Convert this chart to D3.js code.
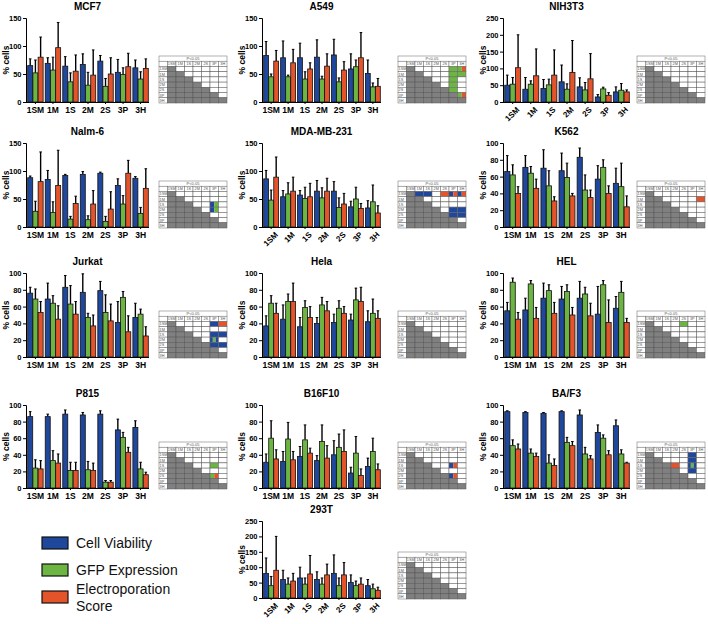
<!DOCTYPE html>
<html><head><meta charset="utf-8">
<script src="https://cdn.jsdelivr.net/npm/d3@7"></script>
<style>body{margin:0;background:#fff}svg{display:block}text{font-family:Arial,"Liberation Sans",sans-serif}</style>
</head><body><svg id="c" width="708" height="624"></svg>
<script>
const categories = ["1SM","1M","1S","2M","2S","3P","3H"];
const panelNames = ["MCF7","A549","NIH3T3","Nalm-6","MDA-MB-231","K562","Jurkat","Hela","HEL","P815","B16F10","BA/F3","293T"];
const yMax = [150,150,250,150,150,100,100,100,100,100,100,100,250];
const rotatedLabels = [false,false,true,false,true,false,false,false,false,false,false,false,true];
const seriesNames = ["Cell Viability","GFP Expression","Electroporation Score"];
const seriesColors = ["#1f479c","#6cb543","#e4542b"];

const viability = [
 [65,69,64,67,73,53,61],[83,79,79,80,84,59,51],[50,38,40,60,45,15,30],
 [88,85,92,94,96,74,87],[86,54,57,64,64,36,34],[66,71,70,67,83,57,52],
 [76,69,83,77,79,41,47],[37,45,36,40,41,44,42],[55,56,70,69,70,51,58],
 [86,86,89,88,89,70,73],[31,32,38,33,40,18,26],[92,91,90,92,88,67,75],
 [80,60,65,60,80,50,40]];
const viabilityErr = [
 [12,10,17,19,10,23,14],[25,30,26,31,28,27,24],[30,35,27,50,27,7,15],
 [3,16,2,5,2,12,3],[15,11,8,19,17,10,13],[19,14,22,21,11,16,18],
 [7,19,14,22,11,25,17],[12,17,11,7,10,7,13],[10,14,18,15,20,33,14],
 [6,3,5,3,4,13,8],[10,12,12,6,17,7,10],[1,1,1,1,6,9,7],
 [50,30,35,25,60,25,20]];
const gfp = [
 [52,57,36,30,28,49,41],[45,45,41,41,36,63,27],[53,53,51,38,36,39,35],
 [28,26,14,13,10,41,24],[48,59,51,52,35,50,45],[62,64,49,59,44,71,48],
 [69,64,63,47,53,71,51],[64,66,59,62,58,68,52],[89,87,79,78,75,86,77],
 [24,33,21,22,7,61,23],[60,59,58,56,49,42,44],[51,42,30,55,41,60,41],
 [40,45,45,45,40,40,30]];
const gfpErr = [
 [23,23,16,23,14,12,13],[5,3,13,5,7,12,7],[20,10,17,16,22,5,20],
 [18,19,5,7,9,15,11],[18,20,20,18,17,21,30],[12,8,18,17,18,9,28],
 [12,9,22,5,21,7,6],[9,9,8,9,9,14,17],[5,4,7,8,8,5,13],
 [10,12,10,10,2,6,8],[21,20,18,20,16,20,16],[7,5,10,6,8,4,5],
 [30,20,20,20,25,15,15]];
const ep = [
 [80,97,55,48,50,63,60],[73,70,59,64,57,79,28],[102,78,80,88,69,20,30],
 [81,74,42,41,32,96,69],[89,64,54,64,41,33,25],[40,46,31,37,35,40,24],
 [53,45,51,37,43,30,25],[52,66,47,55,52,66,46],[45,46,52,50,49,41,41],
 [23,30,21,21,7,43,16],[35,34,42,36,44,15,22],[47,38,27,51,35,40,30],
 [90,55,78,75,75,45,25]];
const epErr = [
 [36,45,29,45,29,24,17],[19,24,11,22,15,45,14],[98,80,75,95,75,8,6],
 [53,63,13,24,31,23,35],[36,25,24,23,19,9,13],[8,11,5,3,9,9,13],
 [13,16,15,13,20,19,11],[12,22,13,11,8,17,9],[8,13,13,9,15,27,5],
 [10,11,10,9,2,6,3],[11,10,6,15,26,8,7],[6,4,8,5,4,5,1],
 [110,25,60,35,40,20,10]];
// significance cells: [row, col, colour codes]
const sigCells = [
 [],
 [[0,5,"g"],[1,5,"g"],[2,5,"g"],[3,5,"g"],[4,5,"g"],[0,6,"gr"],[1,6,"g"],[5,6,"gr"]],
 [],
 [[2,5,"bg"],[3,5,"bg"]],
 [[0,1,"b"],[0,2,"b"],[0,4,"r"],[0,5,"br"],[0,6,"br"],[3,5,"b"],[3,6,"b"],[4,5,"b"],[4,6,"b"]],
 [[1,6,"r"]],
 [[0,5,"b"],[0,6,"r"],[2,5,"b"],[2,6,"b"],[3,5,"bgb"],[4,5,"b"],[4,6,"b"]],
 [],
 [[0,4,"g"]],
 [[2,5,"g"],[4,5,"gr"]],
 [[2,5,"br"],[4,5,"br"]],
 [[0,5,"b"],[1,5,"b"],[2,3,"r"],[2,5,"bgb"],[3,5,"b"]],
 []
];

const colAxisX = [26,262,503], colRight = [149,381,630], tableX = [159,398,637];
const rowTop = [18,143,273,405,521], rowBottom = [102,227,357,488,598];
const codeColor = {b:seriesColors[0], g:seriesColors[1], r:seriesColors[2]};

const svg = d3.select("#c");

panelNames.forEach((name, p) => {
  const row = p < 12 ? Math.floor(p/3) : 4;
  const col = p < 12 ? p % 3 : 1;
  const ax = colAxisX[col], right = colRight[col];
  const top = rowTop[row], bottom = rowBottom[row];
  const g = svg.append("g");
  const x0 = d3.scaleBand().domain(categories).range([ax+1, right]).paddingInner(0.12).paddingOuter(0.04);
  const x1 = d3.scaleBand().domain([0,1,2]).range([0, x0.bandwidth()]).paddingInner(0.04);
  const y = d3.scaleLinear().domain([0, yMax[p]]).range([bottom, top]);
  const step = yMax[p] === 100 ? 20 : 50;

  g.append("text").attr("x", (ax+right)/2).attr("y", top-8).attr("text-anchor","middle")
    .attr("font-size",10).attr("font-weight","bold").text(name);
  g.append("text").attr("transform",`translate(${ax-17},${(top+bottom)/2}) rotate(-90)`)
    .attr("text-anchor","middle").attr("font-size",8.5).attr("font-weight","bold").text("% cells");

  const vals = [viability[p], gfp[p], ep[p]];
  const errs = [viabilityErr[p], gfpErr[p], epErr[p]];
  categories.forEach((c, i) => {
    [0,1,2].forEach(s => {
      const bx = x0(c) + x1(s), bw = x1.bandwidth();
      const v = vals[s][i], e = errs[s][i];
      g.append("line").attr("x1", bx+bw/2).attr("x2", bx+bw/2).attr("y1", y(v)).attr("y2", y(v+e))
        .attr("stroke","#000").attr("stroke-width",1.4);
      g.append("line").attr("x1", bx+bw/2-1.3).attr("x2", bx+bw/2+1.3).attr("y1", y(v+e)).attr("y2", y(v+e))
        .attr("stroke","#000").attr("stroke-width",1);
      g.append("rect").attr("x", bx).attr("y", y(v)).attr("width", bw).attr("height", bottom - y(v))
        .attr("fill", seriesColors[s]).attr("stroke","#111").attr("stroke-width",0.8);
    });
  });

  const yAxis = g.append("g").attr("transform",`translate(${ax},0)`)
    .call(d3.axisLeft(y).tickValues(d3.range(0, yMax[p]+1, step)).tickSize(3).tickPadding(1.5));
  yAxis.selectAll("text").attr("font-size",7.5).attr("font-weight","bold").attr("font-family","Arial, 'Liberation Sans', sans-serif");
  const xAxis = g.append("g").attr("transform",`translate(0,${bottom})`)
    .call(d3.axisBottom(x0).tickSize(2).tickSizeOuter(0).tickPadding(3));
  xAxis.select(".domain").attr("d", `M${ax},0.5H${right}`);
  xAxis.selectAll("text").attr("font-size",8.5).attr("font-weight","bold").attr("font-family","Arial, 'Liberation Sans', sans-serif");
  if (rotatedLabels[p]) {
    xAxis.selectAll("text").attr("text-anchor","end").attr("dy","0.3em").attr("font-size",8)
      .attr("transform","translate(2,3) rotate(-45)");
  }
  g.selectAll(".domain, .tick line").attr("stroke","#000").attr("stroke-width",1);

  // significance table
  const tx = tableX[col], tw = 68, th = 47, ty = bottom + 1 - th;
  const cw = tw/8, rh = th/9;
  const t = svg.append("g");
  t.append("rect").attr("x",tx).attr("y",ty).attr("width",tw).attr("height",rh).attr("fill","#fff").attr("stroke","#666").attr("stroke-width",0.5);
  t.append("text").attr("x",tx+tw/2).attr("y",ty+rh-1.2).attr("text-anchor","middle").attr("font-size",4).attr("fill","#555").text("P<0.05");
  for (let j = 0; j < 8; j++) {
    t.append("rect").attr("x",tx+j*cw).attr("y",ty+rh).attr("width",cw).attr("height",rh).attr("fill","#fff").attr("stroke","#666").attr("stroke-width",0.5);
    if (j>0) t.append("text").attr("x",tx+j*cw+cw/2).attr("y",ty+2*rh-1.2).attr("text-anchor","middle").attr("font-size",3.8).attr("fill","#555").text(categories[j-1]);
  }
  categories.forEach((rc, i) => {
    const ry = ty + (i+2)*rh;
    t.append("rect").attr("x",tx).attr("y",ry).attr("width",cw).attr("height",rh).attr("fill","#fff").attr("stroke","#666").attr("stroke-width",0.5);
    t.append("text").attr("x",tx+0.6).attr("y",ry+rh-1.2).attr("font-size",3.8).attr("fill","#555").text(rc);
    categories.forEach((cc, j) => {
      const cx = tx + (j+1)*cw;
      const sig = sigCells[p].find(s => s[0]===i && s[1]===j);
      if (sig) {
        const codes = sig[2].split("");
        codes.forEach((k, m) => {
          t.append("rect").attr("x",cx + m*cw/codes.length).attr("y",ry).attr("width",cw/codes.length).attr("height",rh).attr("fill",codeColor[k]);
        });
        t.append("rect").attr("x",cx).attr("y",ry).attr("width",cw).attr("height",rh).attr("fill","none").attr("stroke","#666").attr("stroke-width",0.5);
      } else {
        t.append("rect").attr("x",cx).attr("y",ry).attr("width",cw).attr("height",rh)
          .attr("fill", j <= i ? "#808080" : "#fff").attr("stroke","#555").attr("stroke-width",0.5);
      }
    });
  });
});

// legend
const legY = [543, 570, 597];
const legText = [["Cell Viability"],["GFP Expression"],["Electroporation","Score"]];
legY.forEach((ly, s) => {
  svg.append("rect").attr("x",42).attr("y",ly-6).attr("width",26).attr("height",12)
    .attr("fill",seriesColors[s]).attr("stroke","#111").attr("stroke-width",1.2);
  const lines = legText[s];
  lines.forEach((l, k) => {
    svg.append("text").attr("x",76).attr("y", ly + 5 + (k - (lines.length-1)/2)*17 ).attr("font-size",14).attr("fill","#111").text(l);
  });
});
</script></body></html>
